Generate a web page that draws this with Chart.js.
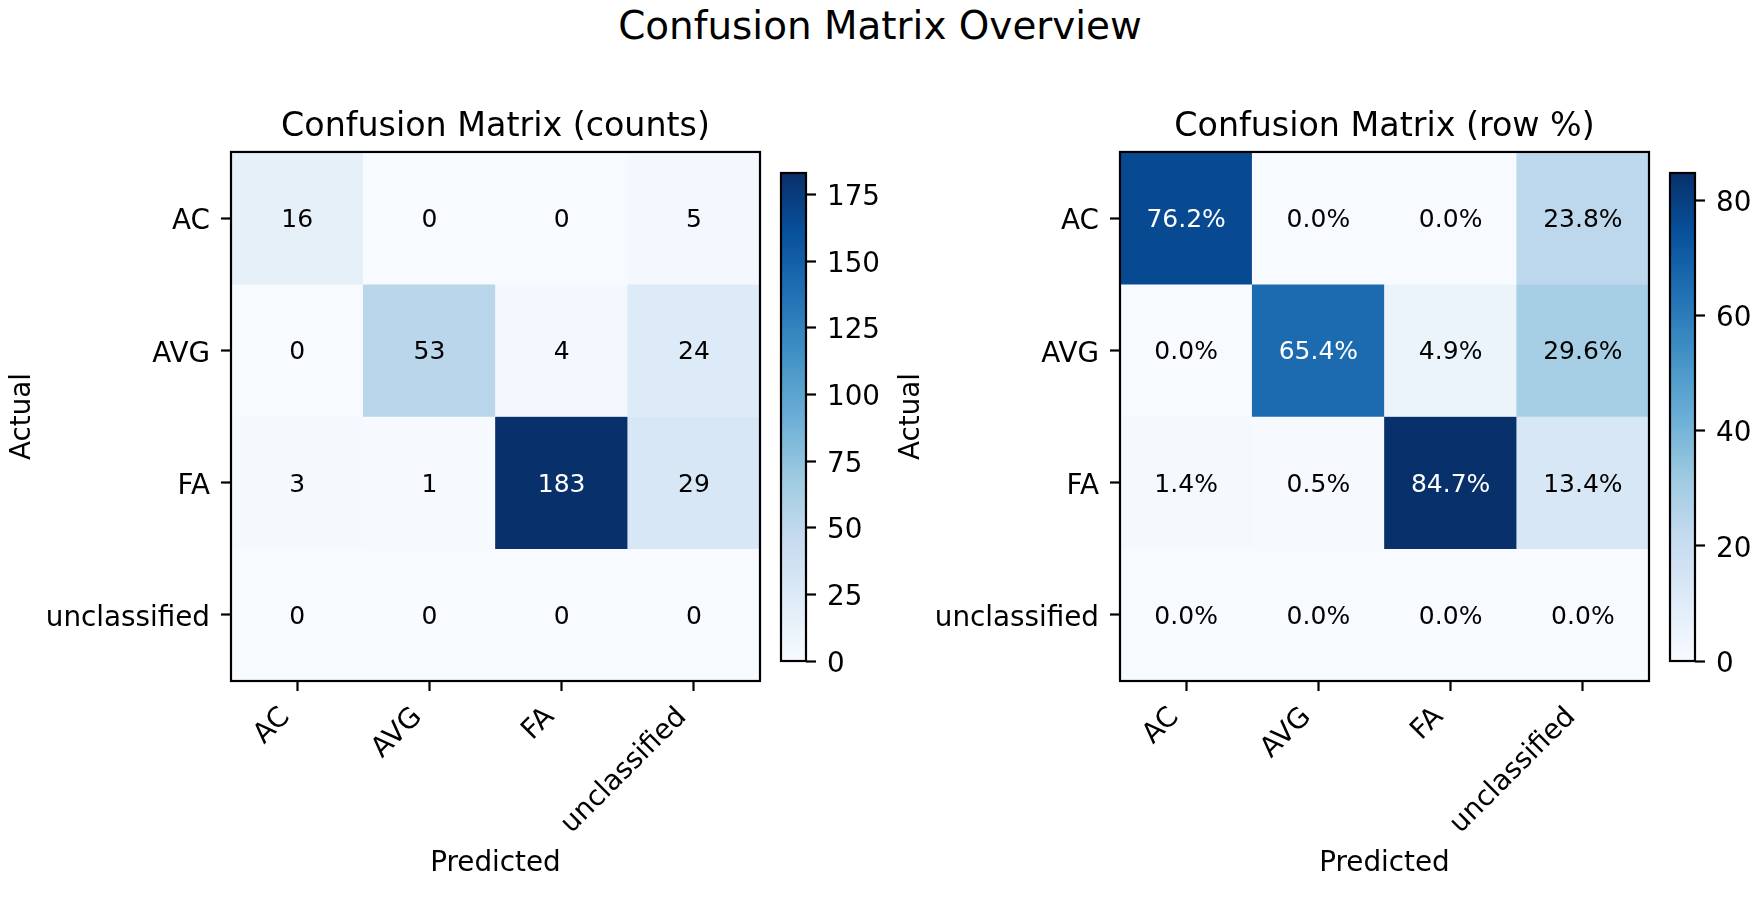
<!DOCTYPE html>
<html>
<head>
<meta charset="utf-8">
<title>Confusion Matrix Overview</title>
<script src="https://cdn.jsdelivr.net/npm/chart.js@4.4.1/dist/chart.umd.min.js"></script>
<style>
  html, body { margin: 0; padding: 0; background: #ffffff; }
  #wrap { position: relative; width: 1760px; height: 900px; overflow: hidden; background: #ffffff; }
  canvas { position: absolute; top: 0; }
  #suptitle { position: absolute; left: 0; top: 7px; width: 1760px; text-align: center;
              font-family: 'DejaVu Sans'; font-size: 38.9px; line-height: 38.9px; color: #000; }
</style>
</head>
<body>
<div id="wrap">
  <div id="suptitle">Confusion Matrix Overview</div>
  <canvas id="hmCounts" width="775" height="900" style="left:0px"></canvas>
  <canvas id="cbCounts" width="115" height="900" style="left:770px"></canvas>
  <canvas id="hmPct" width="775" height="900" style="left:889px"></canvas>
  <canvas id="cbPct" width="115" height="900" style="left:1659px"></canvas>
</div>
<script>
// ---------------- data ----------------
const predictedLabels = ['AC', 'AVG', 'FA', 'unclassified'];
const actualLabels = ['AC', 'AVG', 'FA', 'unclassified'];

const countsAC = [16, 0, 0, 5];
const countsAVG = [0, 53, 4, 24];
const countsFA = [3, 1, 183, 29];
const countsUnclassified = [0, 0, 0, 0];

const pctAC = [76.2, 0.0, 0.0, 23.8];
const pctAVG = [0.0, 65.4, 4.9, 29.6];
const pctFA = [1.4, 0.5, 84.7, 13.4];
const pctUnclassified = [0.0, 0.0, 0.0, 0.0];

const countsMax = 183;
const pctMax = 84.7;
const countsTicks = [0, 25, 50, 75, 100, 125, 150, 175];
const pctTicks = [0, 20, 40, 60, 80];

const bluesStops = ['#f7fbff', '#deebf7', '#c6dbef', '#9ecae1', '#6baed6',
                    '#4292c6', '#2171b5', '#08519c', '#08306b'];

// ---------------- helpers ----------------
const FAMILY = "'DejaVu Sans'";
Chart.defaults.font.family = FAMILY;
Chart.defaults.color = '#000';

function hexToRgb(h) {
  return [parseInt(h.slice(1, 3), 16), parseInt(h.slice(3, 5), 16), parseInt(h.slice(5, 7), 16)];
}
function blues(t) {
  t = Math.max(0, Math.min(1, t));
  const idx = Math.min(255, Math.floor(t * 256)) / 255;
  const pos = idx * (bluesStops.length - 1);
  const i = Math.min(bluesStops.length - 2, Math.floor(pos));
  const f = pos - i;
  const a = hexToRgb(bluesStops[i]), b = hexToRgb(bluesStops[i + 1]);
  const c = a.map((v, k) => Math.round(v + (b[k] - v) * f));
  return 'rgb(' + c.join(',') + ')';
}

const framePlugin = {
  id: 'frame',
  afterDraw(chart) {
    const { ctx, chartArea: a } = chart;
    ctx.save();
    ctx.strokeStyle = '#000';
    ctx.lineWidth = 2.2;
    ctx.strokeRect(a.left, a.top, a.right - a.left, a.bottom - a.top);
    ctx.restore();
  }
};

function makeCellText(rows, vmax, fmt) {
  return {
    id: 'cellText',
    afterDatasetsDraw(chart) {
      const ctx = chart.ctx;
      ctx.save();
      ctx.font = '25px ' + FAMILY;
      ctx.textAlign = 'center';
      ctx.textBaseline = 'middle';
      rows.forEach((row, i) => {
        const meta = chart.getDatasetMeta(i);
        meta.data.forEach((bar, j) => {
          const p = bar.getProps(['x', 'y', 'base'], true);
          const v = row[j];
          ctx.fillStyle = v > vmax / 2 ? '#ffffff' : '#000000';
          ctx.fillText(fmt(v), p.x, (p.y + p.base) / 2 + 2.6);
        });
      });
      ctx.restore();
    }
  };
}

const tickFont = { family: FAMILY, size: 27.8 };

function makeHeatmap(id, rows, vmax, title, fmt) {
  const datasets = rows.map((row, i) => ({
    label: actualLabels[i],
    data: row.map(() => [i - 0.5, i + 0.5]),
    backgroundColor: row.map(v => blues(v / vmax)),
    borderWidth: 0,
    barPercentage: 1,
    categoryPercentage: 1,
    grouped: false
  }));
  return new Chart(document.getElementById(id), {
    type: 'bar',
    data: { labels: predictedLabels, datasets },
    options: {
      responsive: false,
      animation: false,
      devicePixelRatio: 1,
      events: [],
      layout: { padding: { left: 0, right: 15, top: 0, bottom: 0 } },
      plugins: {
        legend: { display: false },
        tooltip: { enabled: false },
        title: {
          display: true, text: title, fullSize: false, color: '#000',
          font: { family: FAMILY, size: 33.3, weight: 'normal' },
          padding: { top: 107.7, bottom: 4.3 }
        }
      },
      scales: {
        x: {
          type: 'category', offset: true,
          afterFit: s => { s.height = 219; },
          ticks: { font: tickFont, color: '#000', padding: 10, labelOffset: -11.5,
                   minRotation: 45, maxRotation: 45, autoSkip: false },
          grid: { drawOnChartArea: false, drawTicks: true, offset: false, tickLength: 10, tickWidth: 2.2, tickColor: '#000' },
          border: { display: false },
          title: { display: true, text: 'Predicted', color: '#000', font: tickFont, padding: { top: 0, bottom: 19.3 } }
        },
        y: {
          type: 'linear', min: -0.5, max: 3.5, reverse: true,
          afterBuildTicks: s => { s.ticks = actualLabels.map((_, i) => ({ value: i })); },
          afterFit: s => { s.width = 231; },
          ticks: { font: tickFont, color: '#000', padding: 11, labelOffset: 4, callback: v => actualLabels[v] },
          grid: { drawOnChartArea: false, drawTicks: true, tickLength: 10, tickWidth: 2.2, tickColor: '#000' },
          border: { display: false },
          title: { display: true, text: 'Actual', color: '#000', font: tickFont, padding: { top: 6.3, bottom: 0 } }
        }
      }
    },
    plugins: [makeCellText(rows, vmax, fmt), framePlugin]
  });
}

function makeColorbar(id, vmax, ticks) {
  return new Chart(document.getElementById(id), {
    type: 'bar',
    data: {
      labels: ['scale'],
      datasets: [{
        data: [[0, vmax]],
        backgroundColor: c => {
          const a = c.chart.chartArea;
          if (!a) return bluesStops[0];
          const g = c.chart.ctx.createLinearGradient(0, a.bottom, 0, a.top);
          bluesStops.forEach((col, k) => g.addColorStop(k / (bluesStops.length - 1), col));
          return g;
        },
        borderWidth: 0,
        barPercentage: 1,
        categoryPercentage: 1
      }]
    },
    options: {
      responsive: false,
      animation: false,
      devicePixelRatio: 1,
      events: [],
      layout: { padding: { left: 11, right: 0, top: 173, bottom: 239 } },
      plugins: { legend: { display: false }, tooltip: { enabled: false } },
      scales: {
        x: { type: 'category', display: false, offset: true },
        y: {
          type: 'linear', position: 'right', min: 0, max: vmax,
          afterBuildTicks: s => { s.ticks = ticks.map(v => ({ value: v })); },
          afterFit: s => { s.width = 79; },
          ticks: { font: tickFont, color: '#000', padding: 11, labelOffset: 3.6 },
          grid: { drawOnChartArea: false, drawTicks: true, tickLength: 10, tickWidth: 2.2, tickColor: '#000' },
          border: { display: false }
        }
      }
    },
    plugins: [framePlugin]
  });
}

makeHeatmap('hmCounts', [countsAC, countsAVG, countsFA, countsUnclassified], countsMax,
            'Confusion Matrix (counts)', v => String(v));
makeColorbar('cbCounts', countsMax, countsTicks);
makeHeatmap('hmPct', [pctAC, pctAVG, pctFA, pctUnclassified], pctMax,
            'Confusion Matrix (row %)', v => v.toFixed(1) + '%');
makeColorbar('cbPct', pctMax, pctTicks);
</script>
</body>
</html>
